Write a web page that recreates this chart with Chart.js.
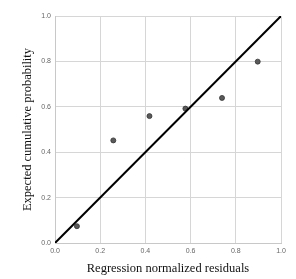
<!DOCTYPE html>
<html>
<head>
<meta charset="utf-8">
<script src="https://cdn.jsdelivr.net/npm/chart.js@4"></script>
<style>
  html, body { margin: 0; padding: 0; background: #fff; }
  #wrap { width: 296px; height: 279px; }
</style>
</head>
<body>
<div id="wrap"><canvas id="ppChart"></canvas></div>
<script>
// observed cumulative probability (x) vs expected cumulative probability (y)
const observedProb = [0.097, 0.258, 0.418, 0.577, 0.739, 0.897];
const expectedProb = [0.074, 0.452, 0.559, 0.592, 0.639, 0.799];
// reference diagonal
const diagX = [0, 1];
const diagY = [0, 1];
const tickValues = [0, 0.2, 0.4, 0.6, 0.8, 1.0];

const points = observedProb.map((x, i) => ({ x: x, y: expectedProb[i] }));
const diagonal = diagX.map((x, i) => ({ x: x, y: diagY[i] }));

const tickFont = { family: 'Liberation Sans, Arial, sans-serif', size: 7 };
const titleFont = { family: 'Liberation Serif, Times New Roman, serif', size: 12.5 };

new Chart(document.getElementById('ppChart'), {
    type: 'scatter',
    data: {
        datasets: [
            {
                type: 'line',
                data: diagonal,
                borderColor: '#000',
                borderWidth: 2,
                pointRadius: 0,
                fill: false
            },
            {
                data: points,
                backgroundColor: '#5a5a5a',
                borderColor: '#333',
                borderWidth: 0.8,
                pointRadius: 2.5
            }
        ]
    },
    options: {
        responsive: true,
        maintainAspectRatio: false,
        animation: false,
        layout: { padding: { left: 0, right: 15, top: 16, bottom: 0 } },
        plugins: { legend: { display: false }, tooltip: { enabled: false } },
        scales: {
            x: {
                type: 'linear',
                min: 0,
                max: 1,
                afterBuildTicks: axis => { axis.ticks = tickValues.map(v => ({ value: v })); },
                afterFit: axis => { axis.height = 36; },
                grid: { color: '#d6d6d6', drawTicks: false },
                border: { color: '#c8c8c8' },
                ticks: {
                    padding: 4,
                    color: '#666',
                    font: tickFont,
                    maxRotation: 0,
                    callback: v => v.toFixed(1)
                },
                title: {
                    display: true,
                    text: 'Regression normalized residuals',
                    color: '#111',
                    font: titleFont,
                    padding: { top: 0, bottom: 3 }
                }
            },
            y: {
                type: 'linear',
                min: 0,
                max: 1,
                afterBuildTicks: axis => { axis.ticks = tickValues.map(v => ({ value: v })); },
                afterFit: axis => { axis.width = 55; },
                grid: { color: '#d6d6d6', drawTicks: false },
                border: { color: '#c8c8c8' },
                ticks: {
                    padding: 4,
                    color: '#666',
                    font: tickFont,
                    callback: v => v.toFixed(1)
                },
                title: {
                    display: true,
                    text: 'Expected cumulative probability',
                    color: '#111',
                    font: titleFont,
                    padding: { top: 20, bottom: 0 }
                }
            }
        }
    }
});
</script>
</body>
</html>
